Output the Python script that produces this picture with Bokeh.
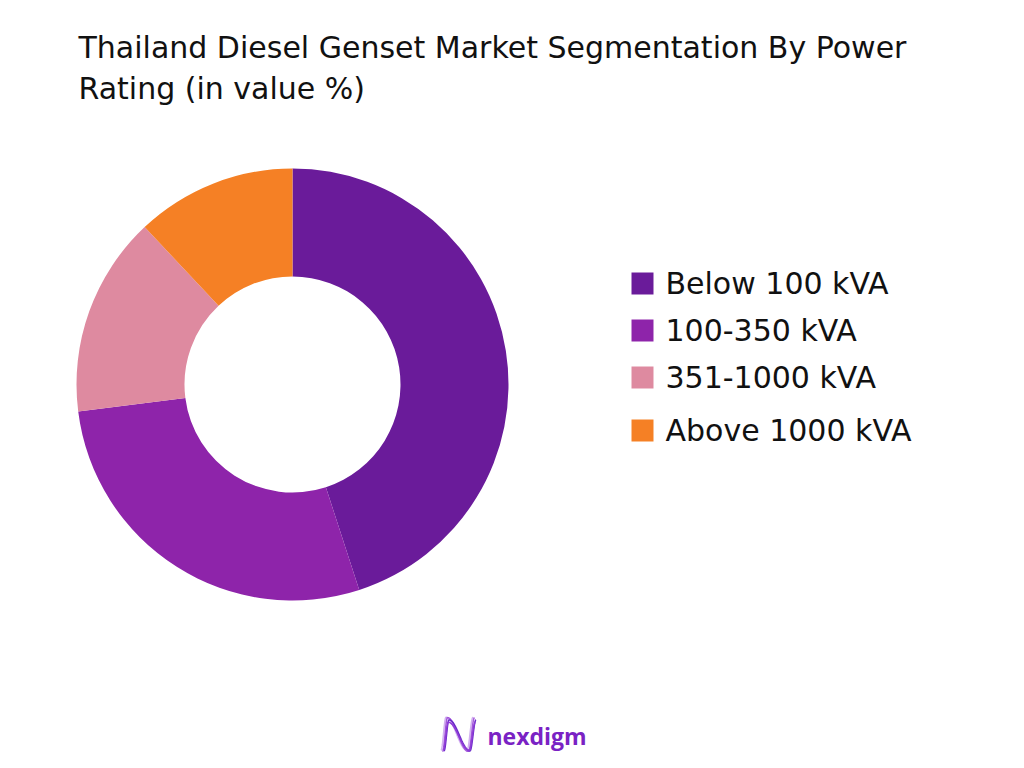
import numpy as np
from bokeh.plotting import figure
from bokeh.models import Range1d, ColumnDataSource
from bokeh.core.properties import value
from bokeh.embed import file_html
from bokeh.resources import INLINE

# ---- data ----
categories = ["Below 100 kVA", "100-350 kVA", "351-1000 kVA", "Above 1000 kVA"]
shares = [45, 28, 15, 12]
colors = ["#6A1B9A", "#8E24AA", "#DE8AA0", "#F58025"]
title_lines = ["Thailand Diesel Genset Market Segmentation By Power", "Rating (in value %)"]

W, H = 1008, 752
FONT = "DejaVu Sans"

p = figure(width=W, height=H, output_backend="svg", toolbar_location=None,
           x_range=Range1d(0, W), y_range=Range1d(0, H), min_border=0)
p.axis.visible = False
p.grid.visible = False
p.outline_line_color = None
p.background_fill_color = "white"
p.border_fill_color = "white"

def Y(screen_y):
    return H - screen_y

def X(screen_x):
    return screen_x

# ---- donut ----
total = float(sum(shares))
fr = np.array(shares) / total
cum_end = np.cumsum(fr)
cum_start = cum_end - fr
start = np.pi / 2 - cum_end * 2 * np.pi
end = np.pi / 2 - cum_start * 2 * np.pi
src = ColumnDataSource(dict(start=start, end=end, color=colors, cat=categories))
p.annular_wedge(x=X(292), y=Y(384), inner_radius=108, outer_radius=216,
                start_angle="start", end_angle="end", color="color",
                line_color=None, source=src)

# ---- legend ----
leg_y = [Y(283), Y(330), Y(377), Y(430)]
lsrc = ColumnDataSource(dict(x=[X(642)] * 4, tx=[X(665)] * 4, y=leg_y, color=colors, cat=categories))
p.rect(x="x", y="y", width=22, height=22, color="color", line_color=None, source=lsrc)
p.text(x="tx", y="y", text="cat", source=lsrc, text_font=value(FONT),
       text_font_size="30px", text_baseline="middle", text_color="#111111")

# ---- title ----
p.text(x=[X(78), X(78)], y=[Y(47), Y(88)], text=title_lines, text_font=value(FONT),
       text_font_size="30px", text_baseline="middle", text_color="#111111")

# ---- logo ----
s = np.linspace(0, 1, 90)
theta = -np.pi / 2 + 3 * np.pi * s
for k, (c, dx, amp) in enumerate([("#D2B0F0", -1.5, 16.5), ("#A458DC", 0.0, 17.0),
                                  ("#6A2BC9", 1.5, 15.5), ("#8E3BD6", 0.8, 14.0)]):
    xs = np.interp(s, [0, 1 / 3, 2 / 3, 1], [442, 447, 468, 474]) + dx
    ys = 734.5 - amp * np.sin(theta) + (k - 1.5) * 0.8
    p.line(X(xs), Y(ys), line_color=c, line_width=1.5)
p.text(x=[X(487)], y=[Y(735)], text=["nexdigm"], text_font=value("Open Sans"),
       text_font_size="23px", text_font_style="bold", text_baseline="middle",
       text_color="#7A22C4")

open("out.html", "w").write(file_html(p, INLINE))
